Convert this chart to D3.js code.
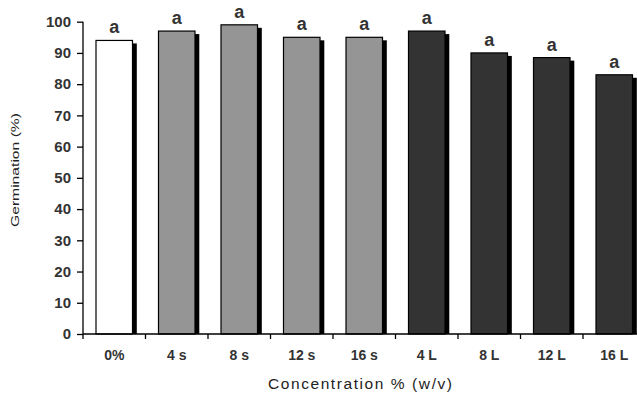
<!DOCTYPE html>
<html>
<head>
<meta charset="utf-8">
<script src="https://cdn.jsdelivr.net/npm/d3@7"></script>
<style>
  html, body { margin: 0; padding: 0; background: #fff; }
  svg { display: block; }
  text { font-family: "Liberation Sans", Arial, sans-serif; }
</style>
</head>
<body>
<svg id="chart" width="637" height="394"></svg>
<script>
const categories = ["0%", "4 s", "8 s", "12 s", "16 s", "4 L", "8 L", "12 L", "16 L"];
const germination = [94, 97, 99, 95, 95, 97, 90, 88.5, 83];
const letters = ["a", "a", "a", "a", "a", "a", "a", "a", "a"];
const groups = ["control", "s", "s", "s", "s", "L", "L", "L", "L"];
const yTicks = [0, 10, 20, 30, 40, 50, 60, 70, 80, 90, 100];

const fills = { control: "#ffffff", s: "#959595", L: "#333333" };

const svg = d3.select("#chart");
const mLeft = 83, mRight = 645.5, mTop = 21.7, mBottom = 334;

const x = d3.scaleBand().domain(categories).range([mLeft, mRight]).padding(0);
const y = d3.scaleLinear().domain([0, 100]).range([mBottom, mTop]);
const barW = 36.5;
const sdx = 4.3, sdy = 3;

// bars with shadows
const g = svg.append("g");
const bar = g.selectAll("g.bar").data(categories).enter().append("g").attr("class", "bar");
bar.append("rect")
  .attr("x", (d) => x(d) + (x.bandwidth() - barW) / 2 + sdx)
  .attr("y", (d, i) => y(germination[i]) + sdy)
  .attr("width", barW)
  .attr("height", (d, i) => mBottom - y(germination[i]) - sdy)
  .attr("fill", "#000");
bar.append("rect")
  .attr("x", (d) => x(d) + (x.bandwidth() - barW) / 2)
  .attr("y", (d, i) => y(germination[i]))
  .attr("width", barW)
  .attr("height", (d, i) => mBottom - y(germination[i]))
  .attr("fill", (d, i) => fills[groups[i]])
  .attr("stroke", "#000")
  .attr("stroke-width", 1.2);
bar.append("text")
  .attr("x", (d) => x(d) + x.bandwidth() / 2)
  .attr("y", (d, i) => y(germination[i]) - 7)
  .attr("text-anchor", "middle")
  .attr("font-size", 18)
  .attr("font-weight", "bold")
  .attr("fill", "#333")
  .text((d, i) => letters[i]);

// y axis
const yAxis = d3.axisLeft(y).tickValues(yTicks).tickSize(6).tickPadding(6);
const ya = svg.append("g").attr("transform", `translate(${mLeft},0)`).call(yAxis);
ya.select(".domain").attr("d", `M0,${mTop}V${mBottom + 5}`).attr("stroke", "#000").attr("stroke-width", 1.3);
ya.selectAll(".tick line").attr("stroke", "#000").attr("stroke-width", 1.3);
ya.selectAll(".tick text")
  .attr("font-family", "'Liberation Sans', Arial, sans-serif")
  .attr("font-size", 15).attr("font-weight", "bold").attr("fill", "#333");

// x axis
const xAxis = d3.axisBottom(x).tickSize(0).tickPadding(16);
const xa = svg.append("g").attr("transform", `translate(0,${mBottom})`).call(xAxis);
xa.select(".domain").attr("d", `M${mLeft},0H${mRight}`).attr("stroke", "#000").attr("stroke-width", 1.3);
xa.selectAll(".tick text")
  .attr("font-family", "'Liberation Sans', Arial, sans-serif")
  .attr("font-size", 14).attr("font-weight", "bold").attr("fill", "#333");
// boundary ticks
xa.selectAll("line.bound").data(categories.slice(1)).enter().append("line")
  .attr("class", "bound")
  .attr("x1", (d) => x(d)).attr("x2", (d) => x(d))
  .attr("y1", 0).attr("y2", 5)
  .attr("stroke", "#000").attr("stroke-width", 1.3);

// axis titles
svg.append("text")
  .attr("x", 360).attr("y", 389)
  .attr("text-anchor", "middle")
  .attr("font-size", 15.5)
  .attr("fill", "#222")
  .attr("textLength", 184).attr("lengthAdjust", "spacing")
  .text("Concentration % (w/v)");

svg.append("text")
  .attr("transform", "translate(18.5,170) rotate(-90)")
  .attr("text-anchor", "middle")
  .attr("font-size", 10.5)
  .attr("fill", "#222")
  .attr("textLength", 114).attr("lengthAdjust", "spacingAndGlyphs")
  .text("Germination (%)");
</script>
</body>
</html>
